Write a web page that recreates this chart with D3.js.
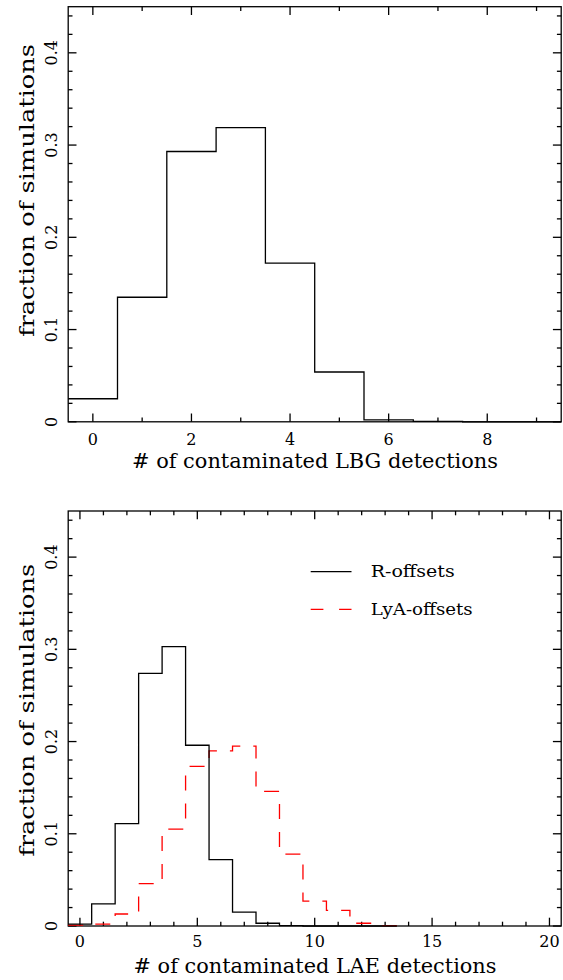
<!DOCTYPE html>
<html>
<head>
<meta charset="utf-8">
<script src="https://cdn.jsdelivr.net/npm/d3@7"></script>
<style>
  html, body { margin: 0; padding: 0; background: #fff; }
  svg { display: block; }
  text { font-family: "DejaVu Serif", serif; fill: #000; }
</style>
</head>
<body>
<svg id="chart" width="563" height="980"></svg>
<script>
// ---- data ----
const lbgCounts = [0, 1, 2, 3, 4, 5, 6, 7, 8, 9];
const lbgFraction = [0.025, 0.135, 0.293, 0.319, 0.172, 0.054, 0.002, 0.0005, 0, 0];

const laeCounts = [0, 1, 2, 3, 4, 5, 6, 7, 8, 9, 10, 11, 12, 13];
const rOffsets   = [0.002, 0.024, 0.111, 0.274, 0.303, 0.196, 0.072, 0.015, 0.003, 0.0005, 0, 0, 0, 0];
const lyaOffsets = [0.001, 0.002, 0.013, 0.046, 0.105, 0.173, 0.190, 0.195, 0.146, 0.078, 0.027, 0.017, 0.003, 0.0005];

const yTickLabels = ["0", "0.1", "0.2", "0.3", "0.4"];
const yTickValues = [0, 0.1, 0.2, 0.3, 0.4];
const topXTicks = [0, 2, 4, 6, 8];
const botXTicks = [0, 5, 10, 15, 20];
const seriesNames = ["R-offsets", "LyA-offsets"];
const yLabel = "fraction of simulations";
const topXLabel = "# of contaminated LBG detections";
const botXLabel = "# of contaminated LAE detections";

// ---- drawing ----
const svg = d3.select("#chart");
const X0 = 68.2, X1 = 561.2;
const LW = 1.3;

function panel(cfg) {
  const g = svg.append("g");
  const x = d3.scaleLinear().domain(cfg.xDomain).range([X0, X1]);
  const y = d3.scaleLinear().domain([0, 0.45]).range([cfg.yBottom, cfg.yTop]);

  g.append("rect").attr("x", X0).attr("y", cfg.yTop)
    .attr("width", X1 - X0).attr("height", cfg.yBottom - cfg.yTop)
    .attr("fill", "none").attr("stroke", "#000").attr("stroke-width", LW);

  const major = 8.3, minor = 4.3;
  const xMinor = d3.range(Math.ceil(cfg.xDomain[0]), Math.floor(cfg.xDomain[1]) + 1);
  xMinor.forEach(v => {
    const len = (v % cfg.xMajorStep === 0) ? major : minor;
    g.append("line").attr("x1", x(v)).attr("x2", x(v))
      .attr("y1", cfg.yBottom).attr("y2", cfg.yBottom - len)
      .attr("stroke", "#000").attr("stroke-width", LW);
    g.append("line").attr("x1", x(v)).attr("x2", x(v))
      .attr("y1", cfg.yTop).attr("y2", cfg.yTop + len)
      .attr("stroke", "#000").attr("stroke-width", LW);
  });
  const yMinor = d3.range(0, 0.4501, 0.02);
  yMinor.forEach((v, i) => {
    const len = (i % 5 === 0) ? major : minor;
    g.append("line").attr("x1", X0).attr("x2", X0 + len)
      .attr("y1", y(v)).attr("y2", y(v))
      .attr("stroke", "#000").attr("stroke-width", LW);
    g.append("line").attr("x1", X1).attr("x2", X1 - len)
      .attr("y1", y(v)).attr("y2", y(v))
      .attr("stroke", "#000").attr("stroke-width", LW);
  });

  cfg.xTicks.forEach(v => {
    g.append("text").attr("x", x(v)).attr("y", cfg.xTickBase)
      .attr("text-anchor", "middle").attr("font-size", 16).text(String(v));
  });
  yTickValues.forEach((v, i) => {
    g.append("text")
      .attr("transform", `translate(56.7,${y(v)}) rotate(-90)`)
      .attr("text-anchor", "middle").attr("font-size", 16).text(yTickLabels[i]);
  });
  g.append("text").attr("x", 315).attr("y", cfg.xLabelBase)
    .attr("text-anchor", "middle").attr("font-size", 20)
    .attr("textLength", cfg.xLabelLen).attr("lengthAdjust", "spacingAndGlyphs")
    .text(cfg.xLabel);
  g.append("text")
    .attr("transform", `translate(33.5,${cfg.yLabelCenter}) rotate(-90)`)
    .attr("text-anchor", "middle").attr("font-size", 20)
    .attr("textLength", 293).attr("lengthAdjust", "spacingAndGlyphs")
    .text(yLabel);

  return { g, x, y };
}

function stepPath(p, counts, values, color, dash) {
  const pts = counts.map((c, i) => [c - 0.5, values[i]]);
  pts.push([counts[counts.length - 1] + 0.5, values[values.length - 1]]);
  const line = d3.line().x(d => p.x(d[0])).y(d => p.y(d[1])).curve(d3.curveStepAfter);
  const path = p.g.append("path").attr("d", line(pts))
    .attr("fill", "none").attr("stroke", color).attr("stroke-width", LW);
  if (dash) path.attr("stroke-dasharray", dash);
}

const topPanel = panel({
  xDomain: [-0.5, 9.5], yTop: 6.7, yBottom: 421.8, xMajorStep: 2,
  xTicks: topXTicks, xTickBase: 445, xLabel: topXLabel, xLabelBase: 468.3, xLabelLen: 366,
  yLabelCenter: 190.5
});
stepPath(topPanel, lbgCounts, lbgFraction, "#000", null);

const botPanel = panel({
  xDomain: [-0.5, 20.5], yTop: 511, yBottom: 926, xMajorStep: 5,
  xTicks: botXTicks, xTickBase: 946.7, xLabel: botXLabel, xLabelBase: 972.7, xLabelLen: 363,
  yLabelCenter: 710.3
});
stepPath(botPanel, laeCounts, lyaOffsets, "#ff0000", "15,13");
stepPath(botPanel, laeCounts, rOffsets, "#000", null);

const legendItems = [
  { name: seriesNames[0], color: "#000", dash: null, y: 571.7, len: 84 },
  { name: seriesNames[1], color: "#ff0000", dash: "12.7,15.7", y: 609.3, len: 102 }
];
legendItems.forEach(d => {
  const l = svg.append("line").attr("x1", 310.7).attr("x2", 351.5)
    .attr("y1", d.y).attr("y2", d.y)
    .attr("stroke", d.color).attr("stroke-width", LW);
  if (d.dash) l.attr("stroke-dasharray", d.dash);
  svg.append("text").attr("x", 370.7).attr("y", d.y + 5.2)
    .attr("font-size", 16).attr("textLength", d.len).attr("lengthAdjust", "spacingAndGlyphs")
    .text(d.name);
});
</script>
</body>
</html>
